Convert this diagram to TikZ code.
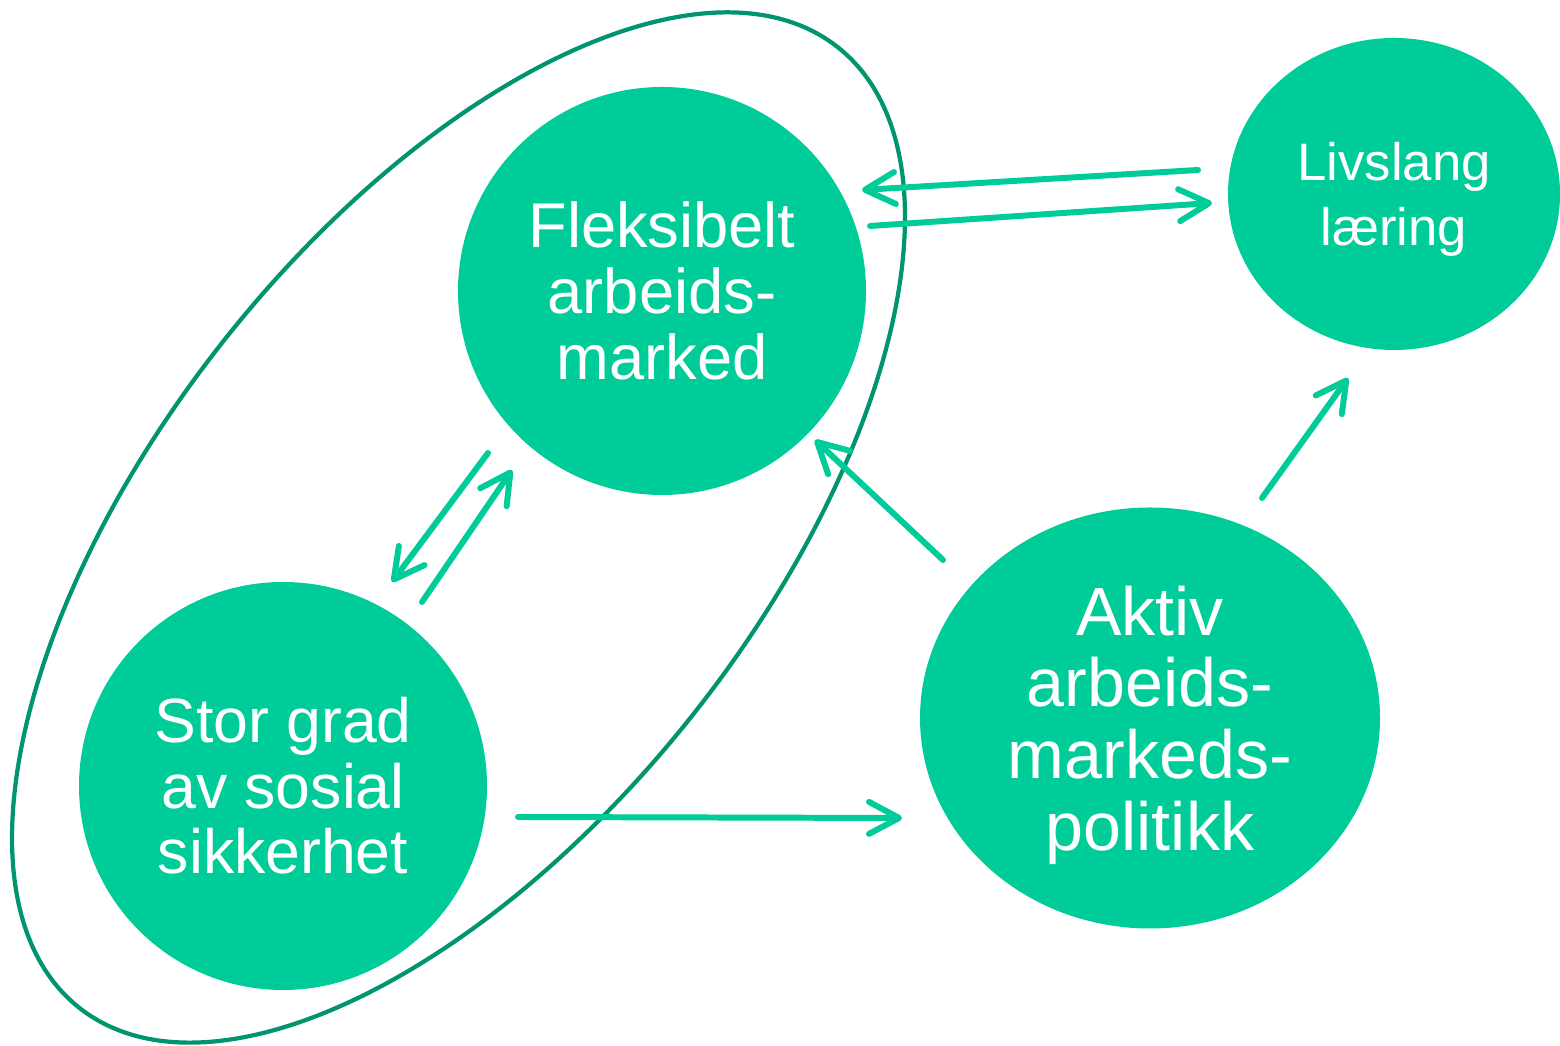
\documentclass[tikz,border=0pt]{standalone}
\usepackage{fontspec}
\setmainfont{Liberation Sans}
\usepackage{tikz}
\usetikzlibrary{arrows.meta, shapes.geometric}
\usepackage{xcolor}
\definecolor{bubblegreen}{HTML}{00CC99}
\definecolor{ringgreen}{HTML}{00956E}

\begin{document}
\begin{tikzpicture}[line cap=round,line join=round]
  \tikzstyle{bubble}=[ellipse,fill=bubblegreen,text=white,align=center,inner sep=0pt]
  \tikzstyle{arr}=[color=bubblegreen,line width=1.7pt,-{Straight Barb[length=3mm,width=3.2mm,round]}]

  \useasboundingbox (0,0) rectangle (15.6,10.46);

  % ring round the two left circles
  \draw[ringgreen,line width=1.2pt,shift={(4.585,5.185)},rotate=51.7]
    (0,0) ellipse (6.12 and 3.00);

  \node[bubble,minimum width=4.08cm,minimum height=4.08cm,
        font=\fontsize{18}{18.8}\selectfont] (fleks) at (6.62,7.55)
    {Fleksibelt\\arbeids-\\marked};
  \node[bubble,minimum width=3.32cm,minimum height=3.12cm,text depth=0pt,
        font=\fontsize{15}{18.5}\selectfont] (livs) at (13.94,8.52)
    {Livslang\\læring};
  \node[bubble,minimum width=4.08cm,minimum height=4.08cm,
        font=\fontsize{17.8}{18.6}\selectfont] (stor) at (2.83,2.60)
    {Stor grad\\av sosial\\sikkerhet};
  \node[bubble,minimum width=4.60cm,minimum height=4.21cm,text depth=0pt,
        font=\fontsize{19.4}{20.4}\selectfont] (aktiv) at (11.50,3.28)
    {Aktiv\\arbeids-\\markeds-\\politikk};

  % arrow ends
  \coordinate (lv-out) at (11.98,8.76);
  \coordinate (fl-in)  at (8.62,8.56);
  \coordinate (fl-out) at (8.70,8.20);
  \coordinate (lv-in)  at (12.12,8.43);
  \coordinate (fl-dn)  at (4.88,5.93);
  \coordinate (st-in)  at (3.92,4.64);
  \coordinate (st-up)  at (4.22,4.44);
  \coordinate (fl-bot) at (5.12,5.76);
  \coordinate (ak-nw)  at (9.43,4.86);
  \coordinate (fl-se)  at (8.15,6.06);
  \coordinate (ak-ne)  at (12.62,5.48);
  \coordinate (lv-sw)  at (13.48,6.68);
  \coordinate (st-rt)  at (5.18,2.29);
  \coordinate (ak-lt)  at (9.02,2.28);

  \path[arr]
  (lv-out) edge (fl-in)
  (fl-out) edge (lv-in)
  (fl-dn)  edge (st-in)
  (st-up)  edge (fl-bot)
  (ak-nw)  edge (fl-se)
  (ak-ne)  edge (lv-sw)
  (st-rt)  edge (ak-lt)
  ;
\end{tikzpicture}
\end{document}
